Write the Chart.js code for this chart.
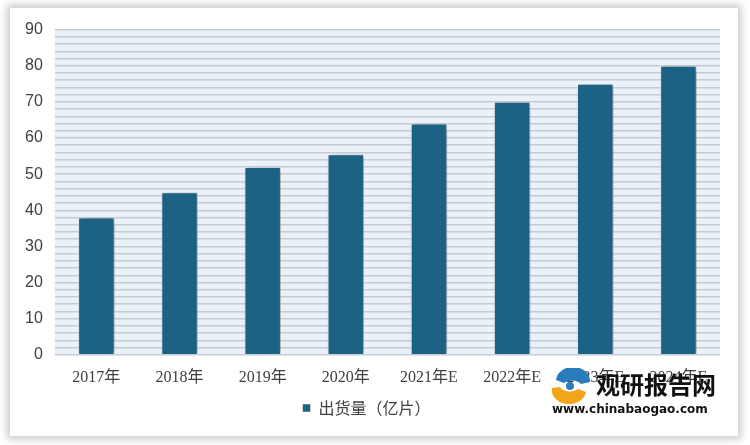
<!DOCTYPE html>
<html>
<head>
<meta charset="utf-8">
<script src="https://cdn.jsdelivr.net/npm/chart.js@4"></script>
<style>
  body { margin: 0; background: #fff; width: 750px; height: 445px; position: relative; overflow: hidden; }
  .card { position: absolute; left: 10px; top: 8px; width: 728px; height: 428px; background: #fff;
          box-shadow: 0 0 8px 3px rgba(0,0,0,0.22); }
  .mark { position: absolute; left: 548px; top: 368px; width: 172px; height: 56px; }
  .mark .name { position: absolute; left: 48px; top: 0; font: bold 24px "Noto Sans CJK SC", sans-serif; color: #111; line-height: 32px; white-space: nowrap; }
  .mark .url { position: absolute; left: 4px; top: 33px; font: bold 12px "DejaVu Sans", sans-serif; color: #111; line-height: 16px; white-space: nowrap; }
</style>
</head>
<body>
<div class="card"><canvas id="c" width="728" height="428"></canvas></div>
<div class="mark">
  <svg width="44" height="36" style="position:absolute;left:0;top:0">
    <path d="M4 20 A17 14 0 0 0 38 24 L30 21 A11 8 0 0 1 12 19 Z" fill="#f2a516"/>
    <path d="M8 12 A17 14 0 0 1 42 14 L33 16 A11 8 0 0 0 16 15 Z" fill="#2a7dbd"/>
    <circle cx="22" cy="18" r="4" fill="#2a7dbd"/>
  </svg>
  <div class="name">观研报告网</div>
  <div class="url">www.chinabaogao.com</div>
</div>
<script>
const categories = ['2017年', '2018年', '2019年', '2020年', '2021年E', '2022年E', '2023年E', '2024年E'];
const shipments = [38, 45, 52, 55.5, 64, 70, 75, 80];
const seriesLabel = '出货量（亿片）';

// light blue fill behind the striped plot area
const plotBg = {
  id: 'plotBg',
  beforeDraw(chart) {
    const { ctx, chartArea: a } = chart;
    ctx.save();
    ctx.fillStyle = '#eaf1f8';
    ctx.fillRect(a.left, a.top, a.right - a.left, a.bottom - a.top);
    ctx.restore();
  }
};

// soft drop shadow under the bars
const barShadow = {
  id: 'barShadow',
  beforeDatasetsDraw(chart) {
    const ctx = chart.ctx;
    ctx.save();
    ctx.shadowColor = 'rgba(0,0,0,0.4)';
    ctx.shadowBlur = 6;
    ctx.shadowOffsetX = 2;
    ctx.shadowOffsetY = 1;
  },
  afterDatasetsDraw(chart) {
    chart.ctx.restore();
  }
};

new Chart(document.getElementById('c'), {
  type: 'bar',
  data: {
    labels: categories,
    datasets: [{
      label: seriesLabel,
      data: shipments,
      backgroundColor: '#1b6285',
      borderColor: 'rgba(255,255,255,0.5)',
      borderWidth: 1,
      categoryPercentage: 0.86,
      barPercentage: 0.51
    }]
  },
  options: {
    responsive: false,
    animation: false,
    layout: { padding: { left: 3, right: 18, top: 12, bottom: 10 } },
    plugins: {
      legend: {
        position: 'bottom',
        labels: {
          boxWidth: 8, boxHeight: 8, color: '#404040',
          padding: 8,
          font: { family: '"Noto Sans CJK SC", sans-serif', size: 16 }
        }
      },
      tooltip: { enabled: false }
    },
    scales: {
      x: {
        grid: { display: false },
        border: { display: false },
        ticks: { color: '#404040', maxRotation: 0, autoSkip: false, padding: 5,
                 font: { family: '"Liberation Serif", "Noto Sans CJK SC", serif', size: 16 } }
      },
      y: {
        min: 0, max: 90,
        grid: { color: '#c6cbd3', lineWidth: 1.5, drawTicks: false },
        border: { display: false },
        ticks: {
          stepSize: 2, autoSkip: false, padding: 12, color: '#404040',
          font: { family: '"Liberation Sans", Arial, sans-serif', size: 16 },
          callback: v => (v % 10 === 0 ? v : '')
        }
      }
    }
  },
  plugins: [plotBg, barShadow]
});
</script>
</body>
</html>
